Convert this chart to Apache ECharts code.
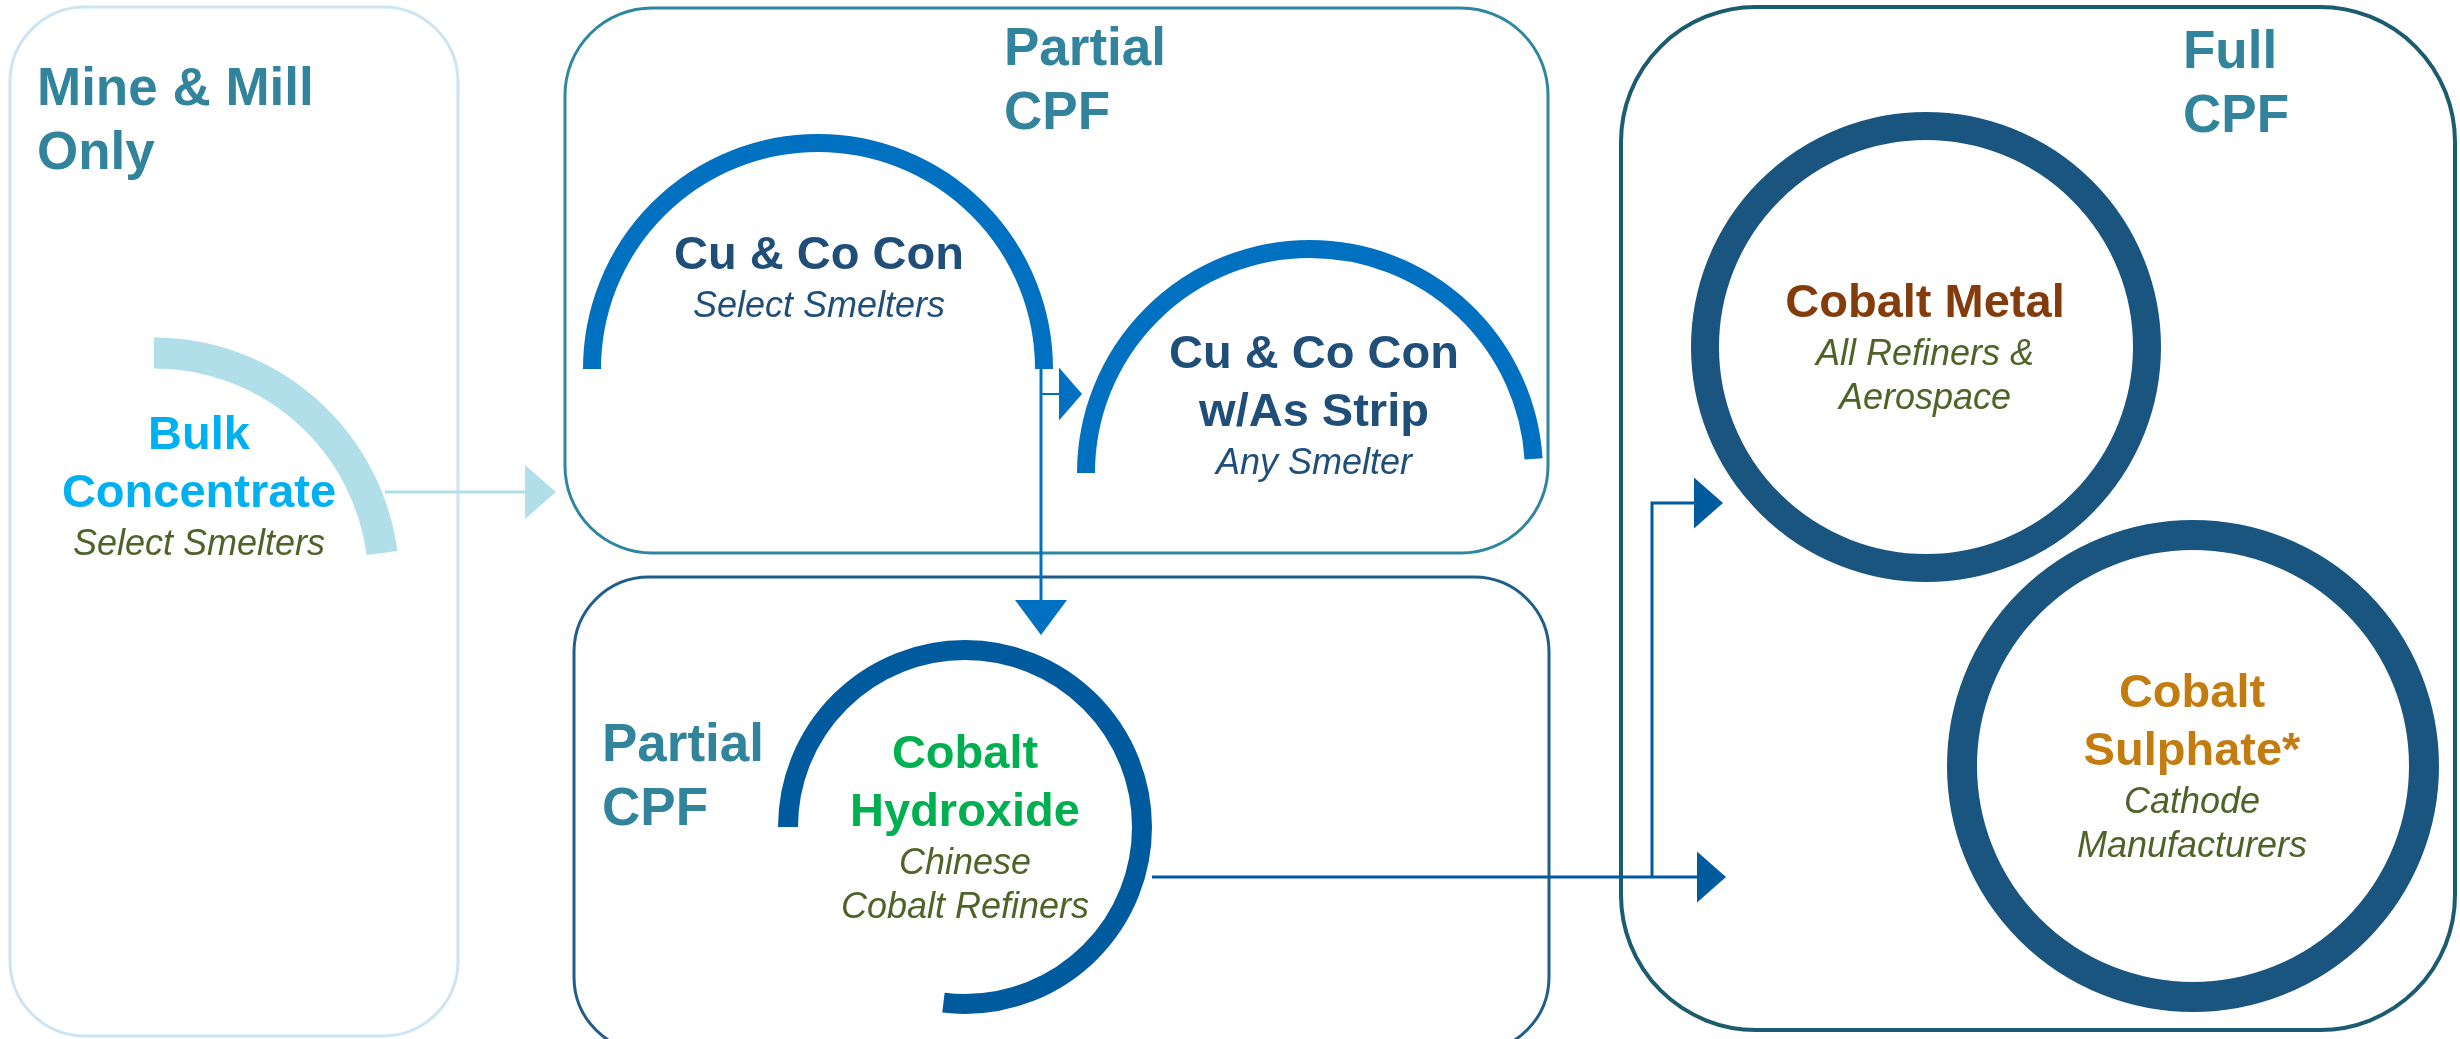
<!DOCTYPE html>
<html>
<head>
<meta charset="utf-8">
<title>Cobalt product pathways</title>
<script src="https://cdn.jsdelivr.net/npm/echarts@6/dist/echarts.min.js"></script>
<style>
  html, body { margin: 0; padding: 0; background: #fff; }
  #chart { width: 2460px; height: 1039px; }
</style>
</head>
<body>
<div id="chart"></div>
<script>
// stage panels (diagram units, y grows downward)
const stageTitles = ['Mine & Mill\nOnly', 'Partial\nCPF', 'Partial\nCPF', 'Full\nCPF']
const stageX0 = [10, 565, 574, 1621]
const stageY0 = [7, 8, 577, 7]
const stageX1 = [458, 1548, 1549, 2455]
const stageY1 = [1036, 553, 1052, 1030]
const stageTitleX = [37, 1004, 602, 2183]
const stageTitleY = [58, 18, 714, 21]

// product rings
const products = ['Bulk\nConcentrate', 'Cu & Co Con', 'Cu & Co Con\nw/As Strip', 'Cobalt\nHydroxide', 'Cobalt Metal', 'Cobalt\nSulphate*']
const buyers = ['Select Smelters', 'Select Smelters', 'Any Smelter', 'Chinese\nCobalt Refiners', 'All Refiners &\nAerospace', 'Cathode\nManufacturers']
const ringX = [154, 818, 1310, 965, 1926, 2193]
const ringY = [583, 369, 473, 827, 347, 766]
const ringR = [230, 226, 224, 177, 221, 231]
const ringFrom = [90, 180, 180, 180, 0, 0] // degrees, anticlockwise from east
const ringTo = [7.5, 0, 3.6, -97, -360, -360] // ring is drawn clockwise from -> to
const labelX = [199, 819, 1314, 965, 1925, 2192]
const labelY = [407, 227, 326, 726, 275, 665]

// flows, last point is the arrow tip
const flows = [
  [[385, 492], [556, 492]],
  [[1041, 366], [1041, 635]],
  [[1041, 394], [1082, 394]],
  [[1152, 877], [1726, 877]],
  [[1652, 877], [1652, 503], [1723, 503]]
]

// styles
const FONT = '"Liberation Sans", Arial, sans-serif'
const stageColors = ['#cde4f5', '#2e87a0', '#1f5d8a', '#1c5c6f']
const stageWidths = [3, 3, 3, 4]
const stageRadius = [75, 87, 75, 135]
const ringColors = ['#b0dfea', '#0070c0', '#0070c0', '#005a9e', '#1a5580', '#1a5580']
const ringWidths = [31, 18, 18, 20, 28, 30]
const titleColors = ['#00b0f0', '#1f4e79', '#1f4e79', '#00b050', '#843c0c', '#c27c10']
const buyerColors = ['#4f6228', '#1f4e79', '#1f4e79', '#4f6228', '#4f6228', '#4f6228']
const flowColors = ['#b0dfea', '#0070c0', '#0070c0', '#005a9e', '#005a9e']
const flowWidths = [3, 3, 2, 3, 3]
const headLen = [31, 35, 23, 29, 29]
const headWidth = [54, 52, 53, 51, 51]

const chart = echarts.init(document.getElementById('chart'))

function renderStage (params, api) {
  const i = params.dataIndex
  const p0 = api.coord([api.value(0), api.value(1)])
  const p1 = api.coord([api.value(2), api.value(3)])
  const t = api.coord([stageTitleX[i], stageTitleY[i]])
  return {
    type: 'group',
    children: [
      {
        type: 'rect',
        shape: { x: p0[0], y: p0[1], width: p1[0] - p0[0], height: p1[1] - p0[1], r: stageRadius[i] },
        style: { fill: 'none', stroke: stageColors[i], lineWidth: stageWidths[i] }
      },
      {
        type: 'text',
        x: t[0],
        y: t[1],
        style: {
          text: stageTitles[i],
          fill: '#31849b',
          fontSize: 53,
          fontWeight: 'bold',
          fontFamily: FONT,
          lineHeight: 64,
          align: 'left',
          verticalAlign: 'top'
        }
      }
    ]
  }
}

function renderRing (params, api) {
  const i = params.dataIndex
  const c = api.coord([api.value(0), api.value(1)])
  const r = api.size([api.value(2), 0])[0]
  return {
    type: 'arc',
    shape: {
      cx: c[0],
      cy: c[1],
      r: r,
      startAngle: -api.value(3) * Math.PI / 180,
      endAngle: -api.value(4) * Math.PI / 180,
      clockwise: true
    },
    style: { fill: 'none', stroke: ringColors[i], lineWidth: ringWidths[i] }
  }
}

function renderLabel (params, api) {
  const i = params.dataIndex
  const p = api.coord([api.value(0), api.value(1)])
  const titleLines = products[i].split('\n').length
  return {
    type: 'group',
    children: [
      {
        type: 'text',
        x: p[0],
        y: p[1],
        style: {
          text: products[i],
          fill: titleColors[i],
          fontSize: 47,
          fontWeight: 'bold',
          fontFamily: FONT,
          lineHeight: 58,
          align: 'center',
          verticalAlign: 'top'
        }
      },
      {
        type: 'text',
        x: p[0],
        y: p[1] + titleLines * 58,
        style: {
          text: buyers[i],
          fill: buyerColors[i],
          fontSize: 36,
          fontStyle: 'italic',
          fontFamily: FONT,
          lineHeight: 44,
          align: 'center',
          verticalAlign: 'top'
        }
      }
    ]
  }
}

function renderFlow (params, api) {
  const i = params.dataIndex
  const pts = flows[i].map(function (d) { return api.coord(d) })
  const tip = pts[pts.length - 1]
  const prev = pts[pts.length - 2]
  const len = Math.hypot(tip[0] - prev[0], tip[1] - prev[1])
  const ux = (tip[0] - prev[0]) / len
  const uy = (tip[1] - prev[1]) / len
  const bx = tip[0] - ux * headLen[i]
  const by = tip[1] - uy * headLen[i]
  const hw = headWidth[i] / 2
  const line = pts.slice(0, -1).concat([[bx, by]])
  return {
    type: 'group',
    children: [
      {
        type: 'polyline',
        shape: { points: line },
        style: { fill: 'none', stroke: flowColors[i], lineWidth: flowWidths[i] }
      },
      {
        type: 'polygon',
        shape: { points: [tip, [bx - uy * hw, by + ux * hw], [bx + uy * hw, by - ux * hw]] },
        style: { fill: flowColors[i] }
      }
    ]
  }
}

const option = {
  animation: false,
  backgroundColor: '#fff',
  grid: { left: 0, right: 0, top: 0, bottom: 0 },
  xAxis: { type: 'value', min: 0, max: 2460, show: false },
  yAxis: { type: 'value', min: 0, max: 1039, inverse: true, show: false },
  series: [
    {
      type: 'custom',
      name: 'stages',
      renderItem: renderStage,
      encode: { x: [0, 2], y: [1, 3] },
      data: stageX0.map(function (x, i) { return [x, stageY0[i], stageX1[i], stageY1[i]] })
    },
    {
      type: 'custom',
      name: 'flows',
      renderItem: renderFlow,
      encode: { x: 0, y: 1 },
      data: flows.map(function (f) { return f[f.length - 1] })
    },
    {
      type: 'custom',
      name: 'rings',
      renderItem: renderRing,
      encode: { x: 0, y: 1 },
      data: ringX.map(function (x, i) { return [x, ringY[i], ringR[i], ringFrom[i], ringTo[i]] })
    },
    {
      type: 'custom',
      name: 'labels',
      renderItem: renderLabel,
      encode: { x: 0, y: 1 },
      data: labelX.map(function (x, i) { return [x, labelY[i]] })
    }
  ]
}

chart.setOption(option)
</script>
</body>
</html>
